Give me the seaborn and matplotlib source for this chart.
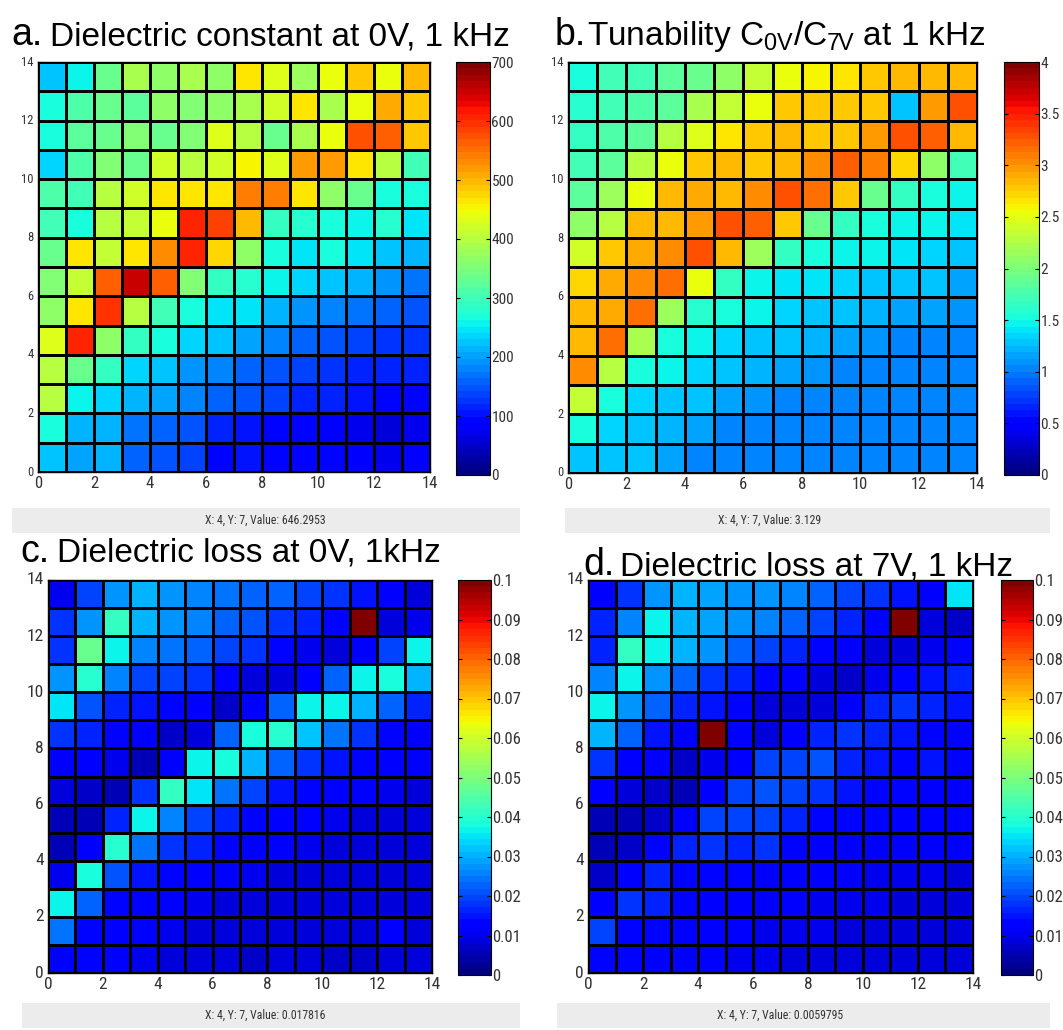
import numpy as np
import pandas as pd
import matplotlib
matplotlib.use("Agg")
import matplotlib.pyplot as plt
import seaborn as sns
from matplotlib import font_manager as fm
from matplotlib.patches import Rectangle

# ---------------- data (rows listed top (y=13) to bottom (y=0)) ----------------
dielectric_constant = [
    [220, 262, 330, 390, 370, 385, 370, 465, 430, 375, 440, 490, 440, 495],
    [265, 310, 330, 320, 365, 360, 370, 390, 420, 460, 390, 440, 510, 490],
    [265, 320, 330, 360, 330, 360, 430, 400, 335, 390, 440, 575, 560, 490],
    [240, 310, 355, 330, 425, 400, 425, 450, 435, 520, 520, 465, 395, 300],
    [315, 305, 400, 420, 460, 460, 470, 545, 545, 465, 365, 335, 270, 270],
    [305, 265, 400, 410, 440, 610, 590, 500, 290, 280, 270, 262, 275, 245],
    [335, 465, 410, 460, 530, 610, 475, 365, 265, 250, 265, 250, 225, 215],
    [360, 405, 560, 646.2953, 560, 360, 295, 275, 260, 230, 225, 210, 190, 170],
    [365, 470, 600, 400, 300, 265, 250, 245, 210, 190, 180, 170, 160, 150],
    [430, 610, 365, 285, 265, 235, 225, 200, 185, 160, 150, 140, 130, 125],
    [395, 335, 285, 240, 220, 195, 180, 160, 145, 140, 130, 115, 110, 110],
    [395, 262, 240, 215, 200, 175, 155, 150, 135, 120, 110, 100, 95, 95],
    [265, 210, 215, 170, 160, 150, 110, 105, 95, 90, 85, 75, 60, 70],
    [225, 200, 215, 155, 150, 135, 95, 100, 95, 95, 90, 80, 75, 80],
]

tunability = [
    [1.55, 1.70, 1.72, 1.85, 1.90, 2.10, 2.35, 2.50, 2.60, 2.65, 2.80, 2.85, 2.85, 2.85],
    [1.60, 1.70, 1.80, 1.85, 2.20, 2.35, 2.50, 2.75, 2.80, 2.80, 2.75, 1.30, 2.95, 3.25],
    [1.65, 1.80, 1.85, 2.30, 2.45, 2.65, 2.80, 2.85, 2.80, 2.80, 2.95, 3.25, 3.20, 2.85],
    [1.70, 1.85, 2.25, 2.50, 2.75, 2.85, 2.80, 2.85, 3.05, 3.20, 3.10, 2.70, 2.10, 1.70],
    [1.85, 2.15, 2.50, 2.85, 2.90, 2.85, 3.00, 3.25, 3.15, 2.75, 1.90, 1.65, 1.50, 1.45],
    [2.10, 2.30, 2.85, 2.85, 2.95, 3.30, 3.20, 2.75, 1.90, 1.65, 1.50, 1.45, 1.45, 1.40],
    [2.40, 2.75, 2.90, 3.05, 3.25, 2.85, 2.15, 1.65, 1.50, 1.45, 1.45, 1.40, 1.35, 1.30],
    [2.70, 2.90, 3.05, 3.129, 2.50, 1.65, 1.45, 1.40, 1.40, 1.35, 1.30, 1.30, 1.25, 1.15],
    [2.85, 2.90, 3.15, 2.15, 1.60, 1.50, 1.45, 1.35, 1.30, 1.25, 1.20, 1.15, 1.15, 1.10],
    [2.85, 3.15, 2.20, 1.50, 1.45, 1.35, 1.30, 1.25, 1.20, 1.15, 1.10, 1.05, 1.00, 1.00],
    [3.00, 2.25, 1.50, 1.45, 1.35, 1.25, 1.20, 1.15, 1.10, 1.05, 1.00, 1.00, 1.00, 1.00],
    [2.35, 1.50, 1.35, 1.30, 1.25, 1.15, 1.10, 1.05, 1.00, 1.00, 1.00, 1.00, 1.00, 1.00],
    [1.50, 1.35, 1.30, 1.20, 1.15, 1.05, 1.00, 1.00, 1.00, 1.00, 1.00, 1.00, 1.00, 1.00],
    [1.30, 1.30, 1.25, 1.15, 1.05, 1.05, 1.00, 1.00, 1.00, 1.00, 1.00, 1.00, 1.00, 1.00],
]

loss_0v = [
    [0.010, 0.020, 0.027, 0.031, 0.028, 0.026, 0.024, 0.023, 0.022, 0.020, 0.018, 0.015, 0.012, 0.008],
    [0.018, 0.028, 0.042, 0.031, 0.027, 0.025, 0.023, 0.021, 0.018, 0.017, 0.013, 0.100, 0.008, 0.010],
    [0.018, 0.047, 0.037, 0.025, 0.024, 0.023, 0.020, 0.018, 0.013, 0.010, 0.009, 0.011, 0.020, 0.036],
    [0.027, 0.040, 0.025, 0.020, 0.019, 0.018, 0.013, 0.009, 0.009, 0.012, 0.023, 0.037, 0.039, 0.031],
    [0.035, 0.021, 0.017, 0.015, 0.013, 0.011, 0.007, 0.011, 0.023, 0.037, 0.037, 0.030, 0.022, 0.016],
    [0.018, 0.016, 0.013, 0.011, 0.007, 0.009, 0.023, 0.038, 0.040, 0.032, 0.024, 0.018, 0.014, 0.012],
    [0.012, 0.011, 0.010, 0.005, 0.012, 0.036, 0.038, 0.031, 0.023, 0.018, 0.015, 0.013, 0.012, 0.011],
    [0.009, 0.007, 0.005, 0.017816, 0.042, 0.035, 0.024, 0.020, 0.015, 0.013, 0.012, 0.011, 0.010, 0.009],
    [0.006, 0.005, 0.016, 0.036, 0.026, 0.020, 0.016, 0.013, 0.012, 0.011, 0.010, 0.009, 0.009, 0.009],
    [0.005, 0.012, 0.040, 0.024, 0.018, 0.016, 0.013, 0.012, 0.011, 0.010, 0.009, 0.008, 0.008, 0.008],
    [0.010, 0.038, 0.021, 0.015, 0.013, 0.012, 0.011, 0.010, 0.009, 0.009, 0.008, 0.008, 0.008, 0.008],
    [0.036, 0.022, 0.014, 0.012, 0.011, 0.010, 0.009, 0.009, 0.009, 0.008, 0.008, 0.008, 0.008, 0.008],
    [0.024, 0.014, 0.012, 0.011, 0.010, 0.009, 0.008, 0.009, 0.009, 0.008, 0.008, 0.009, 0.012, 0.009],
    [0.012, 0.013, 0.012, 0.010, 0.009, 0.009, 0.008, 0.007, 0.008, 0.008, 0.007, 0.007, 0.008, 0.008],
]

loss_7v = [
    [0.012, 0.018, 0.027, 0.031, 0.029, 0.027, 0.027, 0.025, 0.022, 0.020, 0.018, 0.015, 0.012, 0.035],
    [0.016, 0.025, 0.036, 0.031, 0.029, 0.028, 0.025, 0.022, 0.019, 0.016, 0.013, 0.100, 0.009, 0.007],
    [0.017, 0.041, 0.037, 0.031, 0.027, 0.023, 0.019, 0.017, 0.013, 0.012, 0.009, 0.008, 0.010, 0.014],
    [0.026, 0.037, 0.027, 0.023, 0.018, 0.016, 0.013, 0.012, 0.008, 0.007, 0.010, 0.013, 0.015, 0.016],
    [0.036, 0.027, 0.022, 0.016, 0.015, 0.013, 0.009, 0.008, 0.009, 0.012, 0.016, 0.018, 0.016, 0.015],
    [0.031, 0.022, 0.015, 0.012, 0.100, 0.012, 0.009, 0.011, 0.017, 0.018, 0.017, 0.015, 0.014, 0.013],
    [0.018, 0.012, 0.011, 0.007, 0.010, 0.012, 0.019, 0.019, 0.021, 0.017, 0.015, 0.014, 0.015, 0.013],
    [0.012, 0.009, 0.007, 0.0059795, 0.011, 0.020, 0.021, 0.019, 0.018, 0.015, 0.013, 0.013, 0.012, 0.012],
    [0.006, 0.006, 0.007, 0.012, 0.020, 0.019, 0.020, 0.016, 0.013, 0.014, 0.013, 0.012, 0.012, 0.011],
    [0.006, 0.007, 0.013, 0.017, 0.018, 0.017, 0.018, 0.014, 0.012, 0.012, 0.012, 0.011, 0.011, 0.011],
    [0.007, 0.011, 0.017, 0.014, 0.013, 0.013, 0.012, 0.011, 0.011, 0.011, 0.010, 0.010, 0.010, 0.009],
    [0.011, 0.018, 0.017, 0.013, 0.012, 0.011, 0.011, 0.011, 0.010, 0.010, 0.010, 0.009, 0.009, 0.009],
    [0.019, 0.014, 0.014, 0.012, 0.011, 0.011, 0.010, 0.010, 0.010, 0.009, 0.009, 0.009, 0.009, 0.009],
    [0.014, 0.014, 0.012, 0.011, 0.011, 0.010, 0.010, 0.009, 0.009, 0.008, 0.008, 0.008, 0.008, 0.009],
]

axis_ticks = [0, 2, 4, 6, 8, 10, 12, 14]
cbar_ticks_a = [0, 100, 200, 300, 400, 500, 600, 700]
cbar_labels_a = ["0", "100", "200", "300", "400", "500", "600", "700"]
cbar_ticks_b = [0, 0.5, 1, 1.5, 2, 2.5, 3, 3.5, 4]
cbar_labels_b = ["0", "0.5", "1", "1.5", "2", "2.5", "3", "3.5", "4"]
cbar_ticks_loss = [0, 0.01, 0.02, 0.03, 0.04, 0.05, 0.06, 0.07, 0.08, 0.09, 0.1]
cbar_labels_loss = ["0", "0.01", "0.02", "0.03", "0.04", "0.05", "0.06", "0.07", "0.08", "0.09", "0.1"]

titles = ["Dielectric constant at 0V, 1 kHz",
          r"Tunability C$_{\mathregular{0V}}$/C$_{\mathregular{7V}}$ at 1 kHz",
          "Dielectric loss at 0V, 1kHz",
          "Dielectric loss at 7V, 1 kHz"]
prefixes = ["a.", "b.", "c.", "d."]
status_texts = ["X: 4, Y: 7, Value: 646.2953", "X: 4, Y: 7, Value: 3.129",
                "X: 4, Y: 7, Value: 0.017816", "X: 4, Y: 7, Value: 0.0059795"]

# ---------------- fonts ----------------
names = {f.name for f in fm.fontManager.ttflist}
NARROW = next((n for n in ["Liberation Sans Narrow", "Arial Narrow", "Roboto Condensed",
                           "Open Sans Condensed", "DejaVu Sans Condensed"] if n in names),
              "Liberation Sans")
WIDE = "Liberation Sans" if "Liberation Sans" in names else "DejaVu Sans"
plt.rcParams["font.family"] = [NARROW, "DejaVu Sans"]

W, H = 1063, 1030
fig = plt.figure(figsize=(W / 100, H / 100), dpi=100, facecolor="white")
cmap = matplotlib.colormaps["jet"].resampled(64)


def px_axes(x0, y0, x1, y1):
    return fig.add_axes([x0 / W, 1 - y1 / H, (x1 - x0) / W, (y1 - y0) / H])


panels = [
    dict(data=dielectric_constant, heat=(38, 62, 430, 472), cb=(456, 62, 490, 475), vmax=700,
         ct=cbar_ticks_a, cl=cbar_labels_a, xfs=12, yfs=9, cfs=11),
    dict(data=tunability, heat=(568, 62, 977, 473), cb=(1004, 62, 1039, 475), vmax=4,
         ct=cbar_ticks_b, cl=cbar_labels_b, xfs=12, yfs=9, cfs=11),
    dict(data=loss_0v, heat=(48, 580, 432, 973), cb=(458, 580, 491, 975), vmax=0.1,
         ct=cbar_ticks_loss, cl=cbar_labels_loss, xfs=12.5, yfs=12.5, cfs=12),
    dict(data=loss_7v, heat=(588, 580, 973, 973), cb=(1001, 580, 1033, 975), vmax=0.1,
         ct=cbar_ticks_loss, cl=cbar_labels_loss, xfs=12.5, yfs=12.5, cfs=12),
]

for p in panels:
    ax = px_axes(*p["heat"])
    cax = px_axes(*p["cb"])
    df = pd.DataFrame(p["data"][::-1])  # row 0 = y 0..1
    sns.heatmap(df, ax=ax, cbar_ax=cax, cmap=cmap, vmin=0, vmax=p["vmax"],
                linewidths=0.9, linecolor="black", square=False)
    ax.invert_yaxis()
    ax.set_xticks(axis_ticks)
    ax.set_xticklabels([str(t) for t in axis_ticks], fontsize=p["xfs"], color="#333333", rotation=0)
    ax.set_yticks(axis_ticks)
    ax.set_yticklabels([str(t) for t in axis_ticks], fontsize=p["yfs"], color="#333333", rotation=0)
    ax.tick_params(direction="in", length=4, width=0.8, color="black", pad=3)
    ax.set_xlabel("")
    ax.set_ylabel("")
    for s in ax.spines.values():
        s.set_visible(True)
        s.set_color("black")
        s.set_linewidth(1.0)
    cb = ax.collections[0].colorbar
    cb.set_ticks(p["ct"])
    cb.set_ticklabels(p["cl"])
    cax.yaxis.set_ticks_position("both")
    cax.yaxis.set_label_position("right")
    cax.tick_params(direction="in", length=3, width=0.8, labelsize=p["cfs"],
                    labelcolor="#333333", labelleft=False, labelright=True, pad=1)
    cb.outline.set_visible(True)
    cb.outline.set_edgecolor("black")
    cb.outline.set_linewidth(0.8)

# ---------------- titles ----------------
title_pos = [((11, 45), (50, 45)), ((555, 45), (587, 45)),
             ((20, 562), (57, 562)), ((583, 575), (620, 575))]
for (pp, tp), pre, ttl, k in zip(title_pos, prefixes, titles, range(4)):
    z = -1 if k == 3 else 3
    fig.text(pp[0] / W, 1 - pp[1] / H, pre, fontsize=27, family=WIDE,
             va="baseline", ha="left", color="black", zorder=z)
    fig.text(tp[0] / W, 1 - tp[1] / H, ttl, fontsize=24, family=[WIDE, "DejaVu Sans"],
             va="baseline", ha="left", color="black", zorder=z)

# ---------------- status bars ----------------
bars = [(12, 508, 520, 533), (565, 508, 1050, 533), (22, 1003, 520, 1028), (557, 1003, 1050, 1028)]
text_centers = [(265, 520), (770, 520), (265, 1015), (780, 1015)]
for (x0, y0, x1, y1), (cx, cy), st in zip(bars, text_centers, status_texts):
    fig.add_artist(Rectangle((x0 / W, 1 - y1 / H), (x1 - x0) / W, (y1 - y0) / H,
                             transform=fig.transFigure, facecolor="#ececec",
                             edgecolor="none", zorder=-2))
    fig.text(cx / W, 1 - cy / H, st, fontsize=8.5, ha="center", va="center", color="#333333")

fig.savefig("out.png", dpi=100, facecolor="white")
